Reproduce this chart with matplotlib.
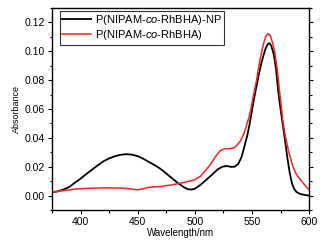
import matplotlib
matplotlib.use("Agg")
import matplotlib.pyplot as plt
from matplotlib.ticker import MultipleLocator, FormatStrFormatter

plt.rcParams['font.family'] = ['Liberation Sans', 'DejaVu Sans']
plt.rcParams['mathtext.fontset'] = 'custom'
plt.rcParams['mathtext.it'] = 'Liberation Sans:italic'
plt.rcParams['mathtext.rm'] = 'Liberation Sans'

# P(NIPAM-co-RhBHA)-NP  (black)
np_wl = [375, 380, 385, 390, 395, 400, 405, 410, 415, 420, 425, 430, 435, 440,
         445, 450, 455, 460, 465, 470, 475, 480, 485, 490, 494, 497, 500, 505,
         510, 515, 520, 524, 528, 532, 535, 538, 541, 544, 546, 548, 550, 552,
         554, 556, 558, 560, 562, 564, 565.5, 567, 569, 571, 573, 575, 577, 579,
         581, 583, 585, 587, 589, 592, 596, 600]
np_abs = [0.0023, 0.0030, 0.0042, 0.0060, 0.0090, 0.0118, 0.0150, 0.0180, 0.0210,
          0.0238, 0.0258, 0.0273, 0.0283, 0.0287, 0.0284, 0.0273, 0.0255, 0.0232,
          0.0210, 0.0185, 0.0153, 0.0120, 0.0088, 0.0060, 0.0044, 0.0042, 0.0048,
          0.0075, 0.0110, 0.0145, 0.0182, 0.0200, 0.0205, 0.0199, 0.0201, 0.0220,
          0.0270, 0.0360, 0.0420, 0.0500, 0.0590, 0.0680, 0.0760, 0.0840, 0.0910,
          0.0970, 0.1020, 0.1052, 0.1055, 0.1035, 0.0980, 0.0880, 0.0720, 0.0600,
          0.0490, 0.0380, 0.0260, 0.0160, 0.0085, 0.0045, 0.0025, 0.0012, 0.0005,
          0.0000]

# P(NIPAM-co-RhBHA)  (red)
cp_wl = [375, 385, 395, 405, 420, 435, 445, 450, 455, 460, 470, 480, 490, 500,
         505, 510, 514, 518, 522, 526, 530, 534, 537, 540, 543, 545, 548, 551,
         554, 557, 560, 562, 564, 566, 568, 570, 572, 575, 577, 579, 582, 584,
         586, 588, 590, 593, 596, 600]
cp_abs = [0.0023, 0.0035, 0.0045, 0.0050, 0.0054, 0.0052, 0.0045, 0.0040, 0.0048,
          0.0058, 0.0063, 0.0075, 0.0090, 0.0110, 0.0135, 0.0180, 0.0220, 0.0270,
          0.0310, 0.0325, 0.0325, 0.0330, 0.0350, 0.0380, 0.0430, 0.0480, 0.0560,
          0.0680, 0.0800, 0.0940, 0.1050, 0.1100, 0.1122, 0.1110, 0.1060, 0.0990,
          0.0880, 0.0660, 0.0520, 0.0420, 0.0310, 0.0250, 0.0200, 0.0160, 0.0135,
          0.0105, 0.0075, 0.0040]

fig = plt.figure(figsize=(3.32, 2.48), dpi=100)
ax = fig.add_axes([0.157, 0.153, 0.774, 0.815])

ax.plot(np_wl, np_abs, color='black', lw=1.3, label=r'P(NIPAM-$\it{co}$-RhBHA)-NP')
ax.plot(cp_wl, cp_abs, color='#ff2020', lw=1.1, label=r'P(NIPAM-$\it{co}$-RhBHA)')

ax.set_xlim(375, 600)
ax.set_ylim(-0.01, 0.13)
ax.xaxis.set_major_locator(MultipleLocator(50))
ax.xaxis.set_minor_locator(MultipleLocator(25))
ax.yaxis.set_major_locator(MultipleLocator(0.02))
ax.yaxis.set_minor_locator(MultipleLocator(0.01))
ax.yaxis.set_major_formatter(FormatStrFormatter('%.2f'))
ax.tick_params(which='both', direction='out', labelsize=7.5, right=True, width=0.8, pad=2)
ax.tick_params(which='major', length=3)
ax.tick_params(which='minor', length=1.8)
for s in ax.spines.values():
    s.set_linewidth(1.0)

ax.set_xlabel('Wavelength/nm', fontsize=7, labelpad=1)
ax.set_ylabel('Absorbance', fontsize=6.5, labelpad=3)

leg = ax.legend(loc='upper left', bbox_to_anchor=(0.03, 0.985), fontsize=8,
                frameon=True, fancybox=False, edgecolor='black', handlelength=2.6,
                borderpad=0.2, labelspacing=0.1, handletextpad=0.4, borderaxespad=0)
leg.get_frame().set_linewidth(0.8)

fig.savefig('out.png', dpi=100)
